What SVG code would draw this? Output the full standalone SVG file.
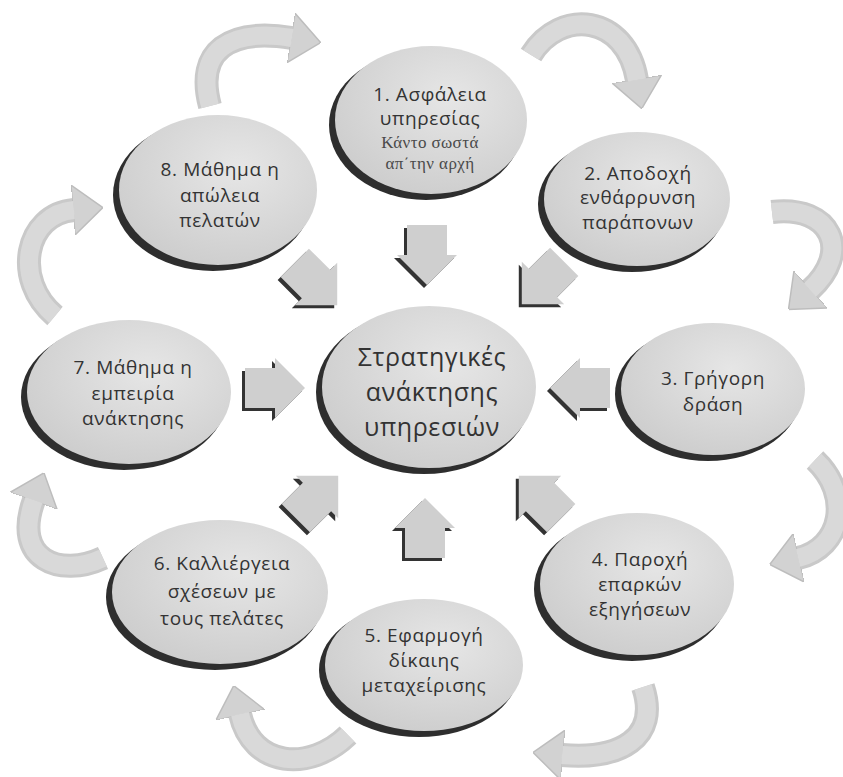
<svg xmlns="http://www.w3.org/2000/svg" width="843" height="777" viewBox="0 0 843 777">
<style>
.sh{fill:#2e2e2e}
.el{fill:url(#eg)}
.t{font-family:"Open Sans","Noto Sans","DejaVu Sans",sans-serif;font-size:19px;letter-spacing:0.6px;fill:#333333;text-anchor:middle}
.ts{font-family:"Liberation Serif","DejaVu Serif",serif;font-size:17px;letter-spacing:0.4px;fill:#4a4a4a;text-anchor:middle}
.tc{font-family:"Open Sans","Noto Sans","DejaVu Sans",sans-serif;font-size:25px;letter-spacing:0.6px;fill:#333333;text-anchor:middle}
.ba{fill:#cfcfcf}
.bs{fill:#333}
.ca{fill:none;stroke:#c9c9c9;stroke-width:24}
.ci{fill:none;stroke:#d9d9d9;stroke-width:18}
</style>
<defs>
<radialGradient id="eg" cx="0.6" cy="0.35" r="0.75">
<stop offset="0" stop-color="#e6e6e6"/>
<stop offset="1" stop-color="#cbcbcb"/>
</radialGradient>
<path id="blk" d="M -30,-20 L 0,-20 L 0,-30 L 30,0 L 0,30 L 0,20 L -30,20 Z"/>
<marker id="hd" markerUnits="userSpaceOnUse" viewBox="0 0 30 50" refX="1" refY="25" markerWidth="30" markerHeight="50" orient="auto">
<path d="M0,0 L30,25 L0,50 Z" fill="#d2d2d2" stroke="#bdbdbd" stroke-width="1.5"/>
</marker>
</defs>
<rect width="843" height="777" fill="#ffffff"/>

<g id="connectors">
<g id="curved-arrows">
<path class="ca" d="M 210,106 C 195,50 230,28 292,38" marker-end="url(#hd)"/>
<path class="ci" d="M 210,106 C 195,50 230,28 292,38"/>
<path class="ca" d="M 531,55 C 560,8 626,14 637,80" marker-end="url(#hd)"/>
<path class="ci" d="M 531,55 C 560,8 626,14 637,80"/>
<path class="ca" d="M 772,212 C 832,205 852,252 810,290" marker-end="url(#hd)"/>
<path class="ci" d="M 772,212 C 832,205 852,252 810,290"/>
<path class="ca" d="M 815,460 C 852,495 842,548 798,558" marker-end="url(#hd)"/>
<path class="ci" d="M 815,460 C 852,495 842,548 798,558"/>
<path class="ca" d="M 643,687 C 660,738 620,760 562,755" marker-end="url(#hd)"/>
<path class="ci" d="M 643,687 C 660,738 620,760 562,755"/>
<path class="ca" d="M 348,735 C 310,772 252,768 240,714" marker-end="url(#hd)"/>
<path class="ci" d="M 348,735 C 310,772 252,768 240,714"/>
<path class="ca" d="M 103,558 C 60,578 12,560 34,500" marker-end="url(#hd)"/>
<path class="ci" d="M 103,558 C 60,578 12,560 34,500"/>
<path class="ca" d="M 55,316 C 12,280 25,214 74,210" marker-end="url(#hd)"/>
<path class="ci" d="M 55,316 C 12,280 25,214 74,210"/>
</g>
<g id="block-arrows">
<g transform="translate(427,255)"><use href="#blk" class="bs" transform="translate(-3,3) rotate(90)"/><use href="#blk" class="ba" transform="rotate(90)"/></g>
<g transform="translate(316,284)"><use href="#blk" class="bs" transform="translate(-3,3) rotate(45)"/><use href="#blk" class="ba" transform="rotate(45)"/></g>
<g transform="translate(543,283)"><use href="#blk" class="bs" transform="translate(-3,3) rotate(135)"/><use href="#blk" class="ba" transform="rotate(135)"/></g>
<g transform="translate(275,388)"><use href="#blk" class="bs" transform="translate(-3,3)"/><use href="#blk" class="ba"/></g>
<g transform="translate(580,388)"><use href="#blk" class="bs" transform="translate(-3,3) rotate(180)"/><use href="#blk" class="ba" transform="rotate(180)"/></g>
<g transform="translate(317,497)"><use href="#blk" class="bs" transform="translate(-3,3) rotate(-45)"/><use href="#blk" class="ba" transform="rotate(-45)"/></g>
<g transform="translate(425,528)"><use href="#blk" class="bs" transform="translate(-3,3) rotate(-90)"/><use href="#blk" class="ba" transform="rotate(-90)"/></g>
<g transform="translate(540,497)"><use href="#blk" class="bs" transform="translate(-3,3) rotate(-135)"/><use href="#blk" class="ba" transform="rotate(-135)"/></g>
</g>
</g>

<g id="center">
<ellipse class="sh" cx="424" cy="392" rx="108" ry="82"/>
<ellipse class="el" cx="429" cy="387" rx="107" ry="81"/>
<text class="tc" x="432" y="366">Στρατηγικές</text>
<text class="tc" x="432" y="401">ανάκτησης</text>
<text class="tc" x="432" y="436">υπηρεσιών</text>
</g>

<g id="node1">
<ellipse class="sh" cx="426" cy="125" rx="97" ry="75"/>
<ellipse class="el" cx="431" cy="120" rx="96" ry="74"/>
<text class="t" x="430" y="101">1. Ασφάλεια</text>
<text class="t" x="430" y="125">υπηρεσίας</text>
<text class="ts" x="430" y="148">Κάντο σωστά</text>
<text class="ts" x="430" y="169">απ΄την αρχή</text>
</g>

<g id="node2">
<ellipse class="sh" cx="632" cy="204" rx="94" ry="68"/>
<ellipse class="el" cx="637" cy="199" rx="93" ry="67"/>
<text class="t" x="638" y="180">2. Αποδοχή</text>
<text class="t" x="638" y="204">ενθάρρυνση</text>
<text class="t" x="638" y="229">παράπονων</text>
</g>

<g id="node3">
<ellipse class="sh" cx="708" cy="394" rx="93" ry="67"/>
<ellipse class="el" cx="713" cy="389" rx="92" ry="66"/>
<text class="t" x="713" y="385">3. Γρήγορη</text>
<text class="t" x="713" y="411">δράση</text>
</g>

<g id="node4">
<ellipse class="sh" cx="632" cy="589" rx="98" ry="72"/>
<ellipse class="el" cx="637" cy="584" rx="97" ry="71"/>
<text class="t" x="640" y="566">4. Παροχή</text>
<text class="t" x="640" y="591">επαρκών</text>
<text class="t" x="640" y="616">εξηγήσεων</text>
</g>

<g id="node5">
<ellipse class="sh" cx="419" cy="670" rx="100" ry="67"/>
<ellipse class="el" cx="424" cy="665" rx="99" ry="66"/>
<text class="t" x="424" y="642">5. Εφαρμογή</text>
<text class="t" x="424" y="667">δίκαιης</text>
<text class="t" x="424" y="692">μεταχείρισης</text>
</g>

<g id="node6">
<ellipse class="sh" cx="215" cy="597" rx="109" ry="73"/>
<ellipse class="el" cx="220" cy="592" rx="108" ry="72"/>
<text class="t" x="222" y="570">6. Καλλιέργεια</text>
<text class="t" x="222" y="598">σχέσεων με</text>
<text class="t" x="222" y="625">τους πελάτες</text>
</g>

<g id="node7">
<ellipse class="sh" cx="124" cy="397" rx="103" ry="73"/>
<ellipse class="el" cx="129" cy="392" rx="102" ry="72"/>
<text class="t" x="133" y="374">7. Μάθημα η</text>
<text class="t" x="133" y="400">εμπειρία</text>
<text class="t" x="133" y="425">ανάκτησης</text>
</g>

<g id="node8">
<ellipse class="sh" cx="213" cy="195" rx="100" ry="76"/>
<ellipse class="el" cx="218" cy="190" rx="99" ry="75"/>
<text class="t" x="220" y="176">8. Μάθημα η</text>
<text class="t" x="220" y="202">απώλεια</text>
<text class="t" x="220" y="227">πελατών</text>
</g>
</svg>
